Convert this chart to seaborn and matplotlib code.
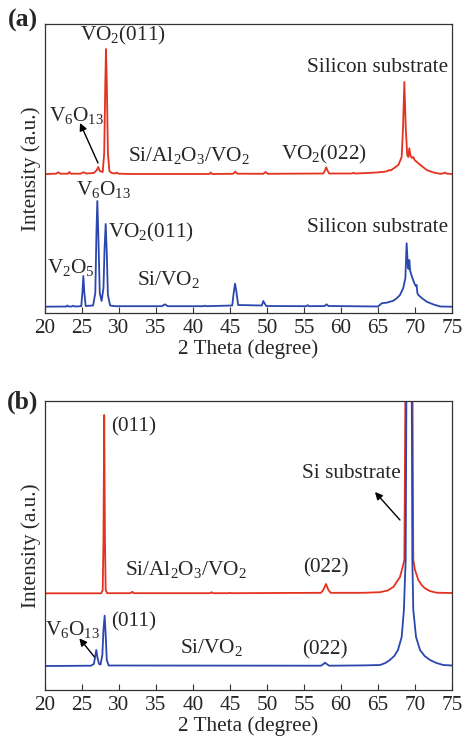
import numpy as np
import pandas as pd
import matplotlib
matplotlib.use("Agg")
import matplotlib.pyplot as plt
import seaborn as sns

# ---------------- data (2 theta in degree, intensity in a.u.) ----------------
a_red_x = [20, 21.5, 21.8, 22.1, 23.1, 23.3, 23.5, 24.8, 25.2, 25.6, 26.6, 27.0, 27.2, 27.4,
           27.8, 28.0, 28.15, 28.24, 28.35, 28.5, 28.7, 29.0, 29.5, 29.7, 29.9, 32, 42.2, 42.4,
           42.6, 45.4, 45.7, 46.0, 49.5, 49.8, 50.1, 57.6, 57.8, 58.0, 58.2, 58.4, 61.5, 61.7,
           61.9, 63, 65, 65.9, 66.3, 66.5, 66.7, 67.75, 68.2, 68.38, 68.56, 68.75, 68.95,
           69.1, 69.23, 69.4, 69.6, 69.77, 69.95, 70.45, 71.58, 72.5, 73.4, 73.8, 74.0, 74.2, 75]
a_red_y = [139, 139.3, 140.7, 139.3, 139.3, 141, 139.3, 139.3, 140.7, 139.5, 140, 143, 146, 142,
           141, 160, 230, 264, 230, 160, 142, 140, 139.5, 140.5, 139.3, 139, 139, 140.5,
           139, 139.2, 141.3, 139.3, 139.2, 141, 139.2, 139.5, 142, 145.7, 142, 139.5, 139.5, 140.3,
           139.5, 139.8, 140.6, 141.3, 142, 143, 142.5, 148, 156, 185, 231, 185, 158,
           156, 164.7, 157, 155, 156, 153, 149.7, 143, 140.5, 139.2, 139.5, 140.5, 139.5, 139]

a_blue_x = [20, 22.9, 23.0, 23.2, 23.6, 23.8, 24.0, 24.9, 25.05, 25.18, 25.32, 25.5, 26.5, 26.8,
            26.95, 27.07, 27.2, 27.4, 27.65, 27.9, 28.05, 28.2, 28.35, 28.5, 28.8, 29.5, 35.8,
            36.2, 36.6, 41.4, 41.6, 41.8, 45.3, 45.5, 45.68, 45.85, 46.1, 49.3, 49.5, 49.65, 49.9,
            55.3, 55.5, 55.7, 57.8, 58.05, 58.3, 65.0, 65.5, 66.3, 66.6, 67.0, 67.5, 67.97, 68.4,
            68.7, 68.87, 69.05, 69.15, 69.23, 69.35, 69.6, 69.9, 70.1, 70.22, 70.32, 70.45, 71.0,
            71.58, 72.5, 73.4, 75]
a_blue_y = [6.3, 6.5, 7.5, 6.5, 6.5, 7.3, 6.5, 6.8, 20, 37, 20, 7, 7.5, 20,
            80, 112, 80, 20, 12, 25, 65, 89, 60, 18, 7.5, 6.8, 6.8,
            8.7, 6.8, 6.8, 7.3, 6.8, 7.5, 20, 29.3, 22, 8, 7.5, 12, 10, 7,
            6.8, 7.8, 6.8, 7, 8.7, 7, 6.5, 9.7, 10.5, 11.3, 12, 14.5, 18, 24.7,
            35, 69.7, 45, 44, 53, 42, 36, 30, 27, 28, 20, 18, 14.5,
            11.3, 8.5, 6.5, 6.3]

b_red_x = [20, 27.6, 27.8, 27.9, 28.0, 28.1, 28.2, 28.4, 31.6, 31.8, 32.0, 42.3, 42.5, 42.7,
           44.8, 44.95, 45.1, 57.3, 57.6, 57.97, 58.3, 58.6, 63, 65.27, 66.3, 67.07, 67.97, 68.33,
           68.56, 68.72, 69.2, 69.65, 69.77, 70.0, 70.45, 70.9, 71.35, 72.0, 72.9, 75]
b_red_y = [96.7, 96.7, 100, 150, 275, 150, 100, 96.8, 96.8, 98.3, 96.8, 96.8, 97.8, 96.8,
           96.8, 97.3, 96.8, 97.2, 100, 106, 100, 97.2, 97.2, 97.8, 99.5, 103, 113, 123,
           130, 320, 1000, 320, 130, 120, 110, 105, 101.7, 99, 97.3, 97]

b_blue_x = [20, 26.2, 26.6, 26.8, 26.93, 27.1, 27.3, 27.5, 27.75, 27.9, 28.06, 28.2, 28.35, 28.6,
            57.3, 57.6, 57.84, 58.1, 58.4, 63, 65.27, 66.0, 66.6, 67.2, 67.7, 68.2, 68.5, 68.65,
            68.74, 68.85, 69.24, 69.55, 69.64, 69.77, 70.14, 70.68, 71.3, 72.03, 72.9, 73.83, 75]
b_blue_y = [24, 24.3, 26, 34, 40, 32, 26, 25.5, 35, 60, 74.3, 55, 30, 24.5,
            24.3, 25.8, 27.3, 25.8, 24.3, 24.6, 25, 27, 30, 34, 40, 53, 80, 113,
            130, 320, 1000, 320, 130, 80, 53, 40, 34, 30, 27, 25, 24.5]

x_ticks = [20, 25, 30, 35, 40, 45, 50, 55, 60, 65, 70, 75]
RED = "#e3321f"
BLUE = "#2b46ae"

# ---------------- style ----------------
sns.set_style("ticks")
plt.rcParams["font.family"] = ["Liberation Serif", "DejaVu Serif"]
plt.rcParams["mathtext.fontset"] = "custom"
plt.rcParams["mathtext.rm"] = "Liberation Serif"
plt.rcParams["mathtext.it"] = "Liberation Serif:italic"
plt.rcParams["mathtext.bf"] = "Liberation Serif:bold"
FS = 15.3

fig = plt.figure(figsize=(4.63, 7.36), dpi=100)
axA = fig.add_axes([45 / 463, 1 - 313 / 736, 407 / 463, 289 / 736])
axB = fig.add_axes([45 / 463, 1 - 690 / 736, 407 / 463, 289 / 736])


def draw(ax, rx, ry, bx, by):
    dr = pd.DataFrame({"x": rx, "y": ry})
    db = pd.DataFrame({"x": bx, "y": by})
    sns.lineplot(data=dr, x="x", y="y", ax=ax, color=RED, lw=1.3, sort=False, estimator=None)
    sns.lineplot(data=db, x="x", y="y", ax=ax, color=BLUE, lw=1.3, sort=False, estimator=None)
    ax.set_xlim(20, 75)
    ax.set_ylim(0, 289)
    ax.set_xticks(x_ticks)
    ax.set_xticklabels([str(t) for t in x_ticks], fontsize=FS)
    ax.set_yticks([])
    ax.tick_params(axis="x", direction="in", length=4, width=0.8, pad=4, color="#333333")
    ax.set_xlabel("2 Theta (degree)", fontsize=FS, labelpad=1)
    ax.set_ylabel("Intensity (a.u.)", fontsize=FS, labelpad=3)
    for s in ax.spines.values():
        s.set_visible(True)
        s.set_linewidth(0.9)
        s.set_color("#333333")


draw(axA, a_red_x, a_red_y, a_blue_x, a_blue_y)
draw(axB, b_red_x, b_red_y, b_blue_x, b_blue_y)

arrow = dict(arrowstyle="-|>", color="black", lw=1.0, mutation_scale=11, shrinkA=0, shrinkB=0)
kw = dict(ha="center", va="center", fontsize=FS)

# panel (a)
axA.text(30.6, 278, "VO$_2$(011)", **kw)
axA.text(64.93, 245, "Silicon substrate", **kw)
axA.text(24.26, 198, "V$_6$O$_{13}$", **kw)
axA.annotate("", xy=(24.73, 190), xytext=(27.16, 150), arrowprops=arrow)
axA.text(39.46, 158, "Si/Al$_2$O$_3$/VO$_2$", **kw)
axA.text(57.64, 159, "VO$_2$(022)", **kw)
axA.text(27.9, 123, "V$_6$O$_{13}$", **kw)
axA.text(34.26, 81, "VO$_2$(011)", **kw)
axA.text(64.93, 85, "Silicon substrate", **kw)
axA.text(23.45, 46, "V$_2$O$_5$", **kw)
axA.text(36.7, 33, "Si/VO$_2$", **kw)

# panel (b)
axB.text(31.96, 263, "(011)", **kw)
axB.text(61.35, 217, "Si substrate", **kw)
axB.annotate("", xy=(64.59, 198), xytext=(67.97, 170), arrowprops=arrow)
axB.text(38.99, 120, "Si/Al$_2$O$_3$/VO$_2$", **kw)
axB.text(57.97, 122, "(022)", **kw)
axB.text(23.78, 60, "V$_6$O$_{13}$", **kw)
axB.annotate("", xy=(24.64, 51.7), xytext=(26.66, 33.3), arrowprops=arrow)
axB.text(31.96, 68, "(011)", **kw)
axB.text(42.5, 43, "Si/VO$_2$", **kw)
axB.text(57.77, 40, "(022)", **kw)

fig.text(23 / 463, 1 - 20 / 736, "(a)", ha="center", va="center", fontsize=18.5, fontweight="bold")
fig.text(23 / 463, 1 - 402 / 736, "(b)", ha="center", va="center", fontsize=18.5, fontweight="bold")

fig.savefig("out.png", dpi=100)
